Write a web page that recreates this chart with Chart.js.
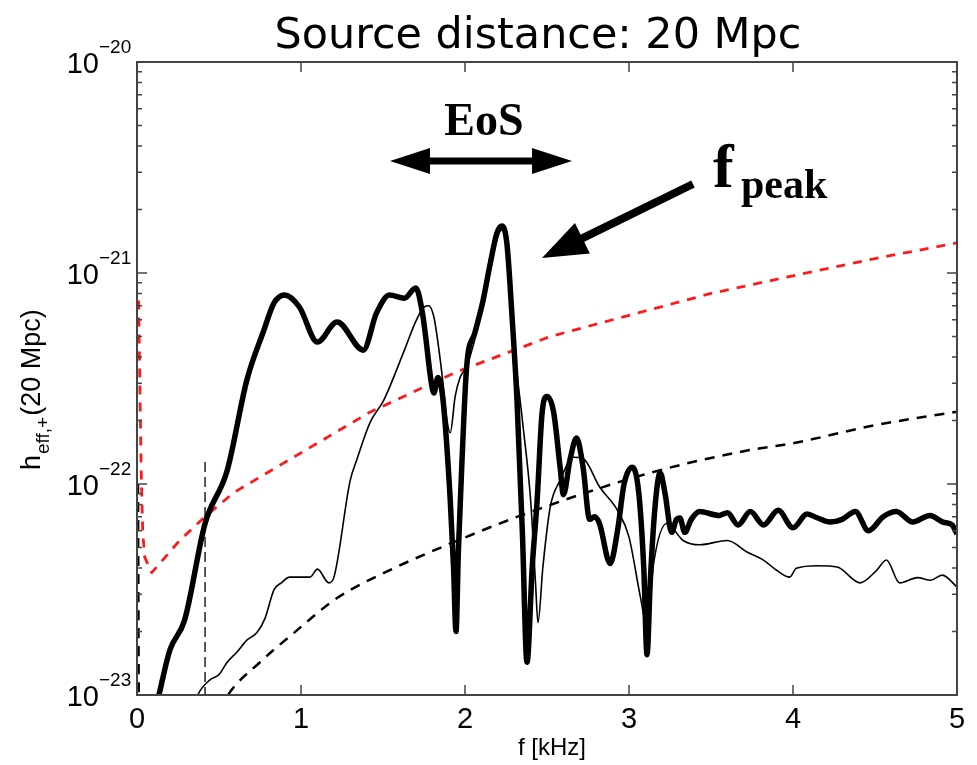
<!DOCTYPE html>
<html>
<head>
<meta charset="utf-8">
<script src="https://cdn.jsdelivr.net/npm/chart.js@4.4.1/dist/chart.umd.min.js"></script>
<style>
  html, body { margin: 0; padding: 0; background: #fff; }
</style>
</head>
<body>
<canvas id="chart" width="977" height="765"></canvas>
<script>
// thick line (full waveform)
const thickF = [0.12, 0.134, 0.20, 0.29, 0.415, 0.55, 0.67, 0.774, 0.835, 0.90, 0.99, 1.10, 1.22, 1.38, 1.46, 1.54, 1.63, 1.70,
  1.74, 1.76, 1.79, 1.81, 1.835, 1.866, 1.91, 1.93, 1.945, 1.96, 1.98, 2.01, 2.06, 2.11, 2.15, 2.195, 2.225, 2.255, 2.287, 2.317,
  2.35, 2.378, 2.41, 2.44, 2.47, 2.50, 2.54, 2.58, 2.60, 2.64, 2.68, 2.72, 2.76, 2.79, 2.82, 2.885, 2.93, 2.97, 3.02, 3.06, 3.09,
  3.11, 3.13, 3.16, 3.19, 3.22, 3.26, 3.29, 3.31, 3.34, 3.38, 3.43, 3.55, 3.60, 3.665, 3.74, 3.82, 3.91, 4.0, 4.085, 4.15, 4.225,
  4.30, 4.38, 4.46, 4.55, 4.63, 4.73, 4.835, 4.915, 4.97, 5.0];
const thickH = [9e-24, 1.0e-23, 1.63e-23, 2.26e-23, 6.5e-23, 1.16e-22, 3.11e-22, 5.37e-22, 7.2e-22, 7.87e-22, 6.9e-22, 4.71e-22, 5.86e-22, 4.31e-22, 6.45e-22, 7.87e-22, 7.6e-22, 8.5e-22,
  6.5e-22, 5.0e-22, 3.2e-22, 2.7e-22, 3.2e-22, 2.5e-22, 8.4e-23, 4.05e-23, 2.0e-23, 4.9e-23, 1.2e-22, 3.59e-22, 5.2e-22, 7.4e-22, 1.07e-21, 1.55e-21, 1.67e-21, 1.39e-21, 6.2e-22, 2.5e-22,
  5.86e-23, 1.43e-23, 4.05e-23, 8.4e-23, 2.17e-22, 2.6e-22, 2.2e-22, 1.2e-22, 8.9e-23, 1.3e-22, 1.65e-22, 1.2e-22, 6.8e-23, 7.0e-23, 6.5e-23, 4.2e-23, 6.0e-23, 1.0e-22, 1.2e-22, 9.0e-23, 4.0e-23,
  1.55e-23, 3.5e-23, 8.0e-23, 1.13e-22, 9.0e-23, 5.9e-23, 6.8e-23, 6.9e-23, 5.9e-23, 6.8e-23, 7.4e-23, 7.1e-23, 7.3e-23, 6.4e-23, 7.4e-23, 6.4e-23, 7.5e-23, 6.2e-23, 7.2e-23, 6.9e-23, 6.6e-23,
  6.8e-23, 7.4e-23, 6.0e-23, 7.0e-23, 7.4e-23, 6.6e-23, 7.1e-23, 6.6e-23, 6.4e-23, 5.8e-23];

// thin line
const thinF = [0.35, 0.37, 0.445, 0.50, 0.55, 0.61, 0.67, 0.73, 0.78, 0.835, 0.88, 0.93, 1.055, 1.10, 1.17, 1.20, 1.30, 1.34, 1.42, 1.505,
  1.63, 1.70, 1.75, 1.78, 1.81, 1.83, 1.86, 1.89, 1.91, 1.94, 1.97, 2.01, 2.07, 2.13, 2.195, 2.225, 2.255, 2.30, 2.35, 2.40, 2.43, 2.445,
  2.475, 2.52, 2.58, 2.66, 2.72, 2.82, 2.93, 3.0, 3.07, 3.11, 3.15, 3.23, 3.33, 3.43, 3.60, 3.72, 3.82, 3.90, 3.98, 4.02, 4.15, 4.27,
  4.41, 4.51, 4.57, 4.65, 4.76, 4.84, 4.91, 5.0];
const thinH = [9e-24, 1.0e-23, 1.18e-23, 1.25e-23, 1.43e-23, 1.6e-23, 1.82e-23, 1.97e-23, 2.3e-23, 3.15e-23, 3.4e-23, 3.62e-23, 3.62e-23, 3.95e-23, 3.4e-23, 3.6e-23, 1.04e-22, 1.3e-22, 1.95e-22, 2.5e-22,
  4.3e-22, 5.9e-22, 6.9e-22, 7.0e-22, 6.2e-22, 5.0e-22, 3.3e-22, 2.0e-22, 1.75e-22, 2.6e-22, 3.2e-22, 3.6e-22, 5.2e-22, 8.5e-22, 1.45e-21, 1.6e-21, 1.3e-21, 4.5e-22, 2.0e-22, 8.4e-23, 3.4e-23, 2.2e-23,
  4.05e-23, 7.8e-23, 1.04e-22, 1.34e-22, 1.32e-22, 9.7e-23, 7.5e-23, 5.6e-23, 2.9e-23, 2.1e-23, 4.2e-23, 6.5e-23, 5.4e-23, 5.15e-23, 5.4e-23, 4.76e-23, 4.36e-23, 3.9e-23, 3.62e-23, 3.99e-23, 4.1e-23, 4.04e-23,
  3.4e-23, 3.9e-23, 4.36e-23, 3.4e-23, 3.6e-23, 3.5e-23, 3.7e-23, 3.25e-23];

// red dashed sensitivity curve
const redF = [0.01, 0.025, 0.035, 0.047, 0.09, 0.26, 0.415, 0.59, 0.976, 1.42, 1.95, 2.52, 3.0, 3.5, 4.0, 4.5, 5.0];
const redH = [7.4e-22, 1.2e-22, 5.9e-23, 4.5e-23, 3.8e-23, 5.4e-23, 7.0e-23, 9.1e-23, 1.37e-22, 2.19e-22, 3.4e-22, 5.0e-22, 6.3e-22, 8.0e-22, 9.7e-22, 1.17e-21, 1.39e-21];

// black dashed sensitivity curve
const blackF = [0.006, 0.012, 0.3, 0.555, 0.75, 0.957, 1.22, 1.585, 1.89, 2.317, 3.13, 3.74, 4.0, 4.5, 5.0];
const blackH = [1.0e-22, 8e-24, 4e-24, 1.0e-23, 1.43e-23, 1.97e-23, 2.88e-23, 4.05e-23, 5.14e-23, 6.98e-23, 1.13e-22, 1.45e-22, 1.56e-22, 1.9e-22, 2.2e-22];

// vertical marker
const markF = [0.415, 0.415];
const markH = [1.27e-22, 1.0e-23];

const xTicks = [0, 1, 2, 3, 4, 5];
const yExps = [-23, -22, -21, -20];

const pts = (xs, ys) => xs.map((x, i) => ({ x, y: ys[i] }));

function arrow(ctx, x1, y1, x2, y2, shaft, headLen, headHalf) {
  const a = Math.atan2(y2 - y1, x2 - x1);
  const bx = x2 - Math.cos(a) * headLen, by = y2 - Math.sin(a) * headLen;
  ctx.strokeStyle = '#000';
  ctx.fillStyle = '#000';
  ctx.beginPath();
  ctx.lineWidth = shaft;
  ctx.lineCap = 'butt';
  ctx.moveTo(x1, y1);
  ctx.lineTo(bx + Math.cos(a) * 2, by + Math.sin(a) * 2);
  ctx.stroke();
  ctx.beginPath();
  ctx.moveTo(x2, y2);
  ctx.lineTo(bx - Math.sin(a) * headHalf, by + Math.cos(a) * headHalf);
  ctx.lineTo(bx + Math.sin(a) * headHalf, by - Math.cos(a) * headHalf);
  ctx.closePath();
  ctx.fill();
}

const frame = {
  id: 'frame',
  afterDraw(chart) {
    const ctx = chart.ctx;
    const xs = chart.scales.x, ys = chart.scales.y;
    const a = chart.chartArea;
    ctx.save();
    ctx.strokeStyle = '#444';
    ctx.fillStyle = '#000';
    ctx.lineWidth = 2;
    ctx.strokeRect(a.left, a.top, a.right - a.left, a.bottom - a.top);

    // y ticks both sides
    ctx.lineWidth = 1.5;
    yExps.forEach((e, k) => {
      for (let m = 1; m <= 9; m++) {
        if (k === yExps.length - 1 && m > 1) break;
        const y = ys.getPixelForValue(m * Math.pow(10, e));
        const len = m === 1 ? 10 : 5;
        ctx.beginPath();
        ctx.moveTo(a.left, y); ctx.lineTo(a.left + len, y);
        ctx.moveTo(a.right, y); ctx.lineTo(a.right - len, y);
        ctx.stroke();
      }
    });
    // x ticks top and bottom
    xTicks.forEach(t => {
      const x = xs.getPixelForValue(t);
      ctx.beginPath();
      ctx.moveTo(x, a.bottom); ctx.lineTo(x, a.bottom - 10);
      ctx.moveTo(x, a.top); ctx.lineTo(x, a.top + 10);
      ctx.stroke();
    });

    // x tick labels
    ctx.fillStyle = '#000';
    ctx.font = '29px "Liberation Sans", Arial, sans-serif';
    ctx.textAlign = 'center';
    ctx.textBaseline = 'alphabetic';
    xTicks.forEach(t => ctx.fillText(String(t), xs.getPixelForValue(t), a.bottom + 33));

    // y tick labels 10^e
    yExps.forEach(e => {
      const y = ys.getPixelForValue(Math.pow(10, e));
      ctx.font = '29px "Liberation Sans", Arial, sans-serif';
      ctx.textAlign = 'right';
      ctx.fillText('10', 99, y + 11);
      ctx.font = '19px "Liberation Sans", Arial, sans-serif';
      ctx.textAlign = 'left';
      ctx.fillText('\u2212' + String(-e), 99, y - 9);
    });

    // x title
    ctx.font = '24px "Liberation Sans", Arial, sans-serif';
    ctx.textAlign = 'center';
    ctx.fillText('f [kHz]', 552, a.bottom + 60);

    // y title, rotated
    ctx.save();
    ctx.translate(40, 470);
    ctx.rotate(-Math.PI / 2);
    ctx.textAlign = 'left';
    ctx.font = '27px "Liberation Sans", Arial, sans-serif';
    ctx.fillText('h', 0, 0);
    let w = ctx.measureText('h').width;
    ctx.font = '19px "Liberation Sans", Arial, sans-serif';
    ctx.fillText('eff,+', w + 1, 9);
    w += ctx.measureText('eff,+').width + 2;
    ctx.font = '27px "Liberation Sans", Arial, sans-serif';
    ctx.fillText('(20 Mpc)', w, 0);
    ctx.restore();

    // title
    ctx.font = '42px "DejaVu Sans", sans-serif';
    const tw = ctx.measureText('Source distance: 20 Mpc').width;
    const fs = 42 * 527 / tw;
    ctx.font = fs.toFixed(1) + 'px "DejaVu Sans", sans-serif';
    ctx.textAlign = 'center';
    ctx.fillText('Source distance: 20 Mpc', 538, 48);

    // EoS annotation
    ctx.font = 'bold 46px "Liberation Serif", "Times New Roman", serif';
    ctx.textAlign = 'center';
    ctx.fillText('EoS', 484, 135);
    arrow(ctx, 481, 161, 572, 161, 7, 40, 13);
    arrow(ctx, 481, 161, 390, 161, 7, 40, 13);

    // f_peak annotation
    ctx.fillStyle = '#000';
    ctx.textAlign = 'left';
    ctx.font = 'bold 62px "Liberation Serif", "Times New Roman", serif';
    ctx.fillText('f', 713, 187);
    ctx.font = 'bold 42px "Liberation Serif", "Times New Roman", serif';
    ctx.fillText('peak', 741, 198);
    arrow(ctx, 693, 184, 542, 258, 8, 45, 17);
    ctx.restore();
  }
};

const line = (data, color, width, dash, smooth = true) => ({
  data,
  borderColor: color,
  borderWidth: width,
  borderDash: dash || [],
  pointRadius: 0,
  fill: false,
  clip: 0,
  tension: 0,
  cubicInterpolationMode: smooth ? 'monotone' : 'default',
  borderJoinStyle: 'round',
  borderCapStyle: 'butt',
});

new Chart(document.getElementById('chart'), {
  type: 'line',
  data: {
    datasets: [
      line(pts(thickF, thickH), '#000', 5.5),
      line(pts(thinF, thinH), '#000', 1.6),
      line(pts(redF, redH), '#ff1a1a', 2.8, [9, 8], false),
      line(pts(blackF, blackH), '#000', 2.5, [10, 8]),
      line(pts(markF, markH), '#222', 1.5, [10, 5], false),
    ],
  },
  options: {
    responsive: false,
    animation: false,
    devicePixelRatio: 1,
    layout: { padding: { left: 137, top: 62, right: 20, bottom: 70 } },
    scales: {
      x: { type: 'linear', min: 0, max: 5, display: false },
      y: { type: 'logarithmic', min: 1e-23, max: 1e-20, display: false },
    },
    plugins: { legend: { display: false }, tooltip: { enabled: false } },
  },
  plugins: [frame],
});
</script>
</body>
</html>
